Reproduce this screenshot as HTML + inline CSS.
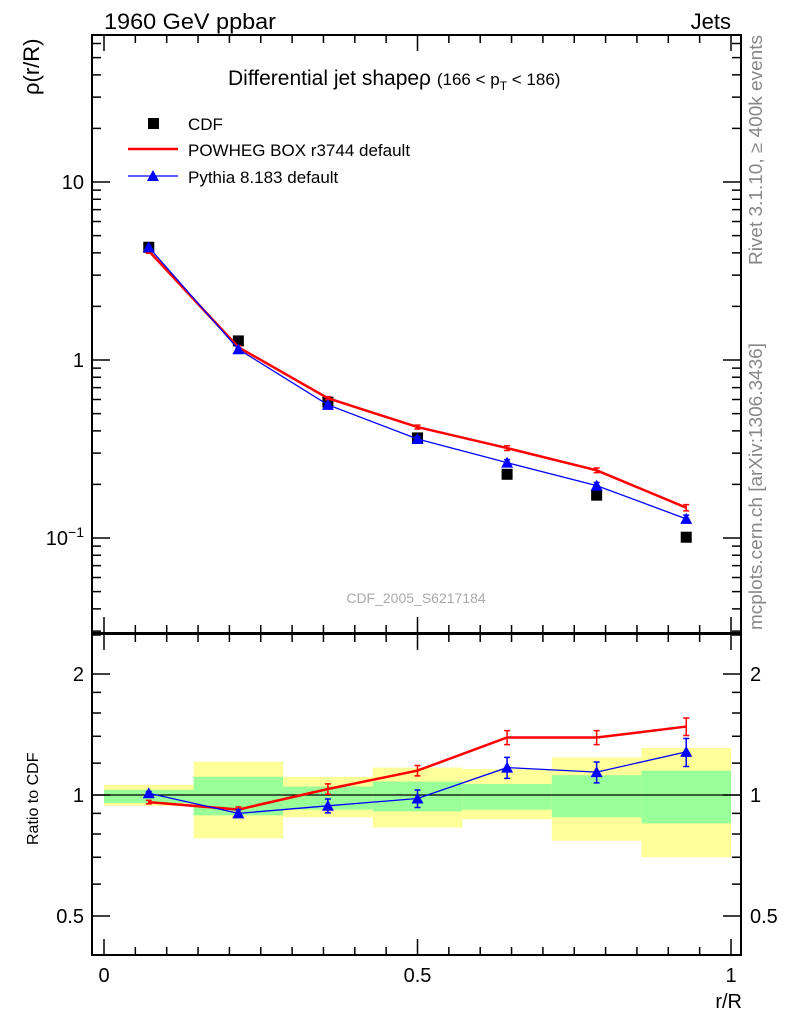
<!DOCTYPE html>
<html><head><meta charset="utf-8"><style>
body{margin:0;background:#fff}
svg text{font-family:"Liberation Sans",sans-serif}
</style></head><body>
<svg id="c" width="786" height="1024" xmlns="http://www.w3.org/2000/svg">
<rect width="786" height="1024" fill="#fff"/>
<g id="bands"></g>
<g id="marks"></g>
<g id="axes"></g>
<text x="104" y="29" font-size="22" textLength="172" lengthAdjust="spacingAndGlyphs">1960 GeV ppbar</text>
<text x="731" y="29" font-size="22" text-anchor="end">Jets</text>
<text x="228" y="85" font-size="21">Differential jet shapeρ <tspan font-size="17">(166 &lt; p</tspan><tspan font-size="12" dy="5">T</tspan><tspan font-size="17" dy="-5"> &lt; 186)</tspan></text>
<text x="416" y="603" font-size="14" fill="#aaa" text-anchor="middle">CDF_2005_S6217184</text>
<text transform="translate(762,265) rotate(-90)" font-size="18" textLength="230" lengthAdjust="spacingAndGlyphs" fill="#888">Rivet 3.1.10, ≥ 400k events</text>
<text transform="translate(762,630) rotate(-90)" font-size="18" textLength="287" lengthAdjust="spacingAndGlyphs" fill="#888">mcplots.cern.ch [arXiv:1306.3436]</text>
<text transform="translate(39,95) rotate(-90)" font-size="22">ρ(r/R)</text>
<text transform="translate(38,845) rotate(-90)" font-size="16">Ratio to CDF</text>
<text x="742" y="1008" font-size="20" text-anchor="end">r/R</text>
<g>
<rect x="148" y="118" width="11" height="11" fill="#000"/>
<text x="188" y="130" font-size="17">CDF</text>
<line x1="128" y1="149" x2="178" y2="149" stroke="#f00" stroke-width="2.5"/>
<text x="188" y="156" font-size="17">POWHEG BOX r3744 default</text>
<line x1="128" y1="176" x2="178" y2="176" stroke="#00f" stroke-width="1.3"/>
<polygon points="153,170 147,181 159,181" fill="#00f"/>
<text x="188" y="183" font-size="17">Pythia 8.183 default</text>
</g>
</svg>
<script>
const xCenters=[0.0714,0.2143,0.3571,0.5,0.6429,0.7857,0.9286];
const cdf=[4.3,1.28,0.58,0.365,0.228,0.174,0.101];
const powheg=[4.1,1.18,0.61,0.42,0.32,0.24,0.148];
const pythia=[4.3,1.15,0.56,0.36,0.265,0.197,0.128];
const powhegRatio=[0.96,0.92,1.035,1.15,1.39,1.39,1.48];
const pythiaRatio=[1.01,0.90,0.94,0.98,1.17,1.14,1.28];
const powhegRatioErr=[0.01,0.015,0.03,0.03,0.04,0.04,0.05];
const pythiaRatioErr=[0.01,0.02,0.04,0.05,0.06,0.06,0.08];
const yellowHi=[1.06,1.21,1.11,1.17,1.16,1.24,1.31];
const yellowLo=[0.94,0.78,0.88,0.83,0.87,0.77,0.70];
const greenHi=[1.03,1.11,1.05,1.08,1.065,1.12,1.15];
const greenLo=[0.955,0.89,0.92,0.91,0.92,0.88,0.85];
const mainTicks=["10","1"];
const NS="http://www.w3.org/2000/svg";
const X=v=>104+v*627;
const Y=v=>360-Math.log10(v)*178;
const R=v=>795-Math.log2(v)*121;
function el(p,t,a){const e=document.createElementNS(NS,t);for(const k in a)e.setAttribute(k,a[k]);p.appendChild(e);return e;}
const bands=document.getElementById('bands'),marks=document.getElementById('marks'),axes=document.getElementById('axes');
const w=1/7;
xCenters.forEach((c,i)=>{
 let r=el(bands,'rect',{x:X(c-w/2),y:R(yellowHi[i]),width:X(w)-104,height:R(yellowLo[i])-R(yellowHi[i]),fill:'#ffff99'});
 
 
 let g=el(bands,'rect',{x:X(c-w/2),y:R(greenHi[i]),width:X(w)-104,height:R(greenLo[i])-R(greenHi[i]),fill:'#99ff99'});
 
 
});
let one=el(marks,'line',{x1:92,x2:741,y1:R(1),y2:R(1),stroke:'#000','stroke-width':1.2});


function series(vals,fy,col,sw,name,tri,errs){
 const p=el(marks,'polyline',{points:xCenters.map((c,i)=>X(c)+','+fy(vals[i])).join(' '),fill:'none',stroke:col,'stroke-width':sw});
 
 
 xCenters.forEach((c,i)=>{
  if(errs){const y1=fy(vals[i]*(1+errs[i])),y2=fy(vals[i]*(1-errs[i]));
   const e=el(marks,'path',{d:`M${X(c)},${y1}V${y2}M${X(c)-3},${y1}h6M${X(c)-3},${y2}h6`,stroke:col,'stroke-width':1.5});
   
   }
  if(tri){const x=X(c),y=fy(vals[i]);
   const t=el(marks,'polygon',{points:`${x},${y-6} ${x-6},${y+5} ${x+6},${y+5}`,fill:col});
   
   }
 });
}
xCenters.forEach((c,i)=>{
 const r=el(marks,'rect',{x:X(c)-5.5,y:Y(cdf[i])-5.5,width:11,height:11,fill:'#000'});
 
 
});
series(powheg,Y,'#f00',2.5,'powheg',false,[0.03,0.02,0.02,0.025,0.03,0.03,0.04]);
series(pythia,Y,'#00f',1.3,'pythia',true,[0.01,0.01,0.02,0.03,0.04,0.04,0.05]);
series(powhegRatio,R,'#f00',2.5,'powheg-ratio',false,powhegRatioErr);
series(pythiaRatio,R,'#00f',1.3,'pythia-ratio',true,pythiaRatioErr);
[[35,633],[634,955]].forEach(([t,b])=>{const f=el(axes,'rect',{x:92,y:t,width:649,height:b-t,fill:'none',stroke:'#000','stroke-width':2});
 
 });
let d='';
for(let k=0;k<=20;k++){const v=k*0.05,x=X(v),L=(k%10==0)?16:8;
 d+=`M${x},35v${L}M${x},633v${-L}M${x},634v${L}M${x},955v${-L}`;}
for(let e=-2;e<=1;e++)for(let m=1;m<=9;m++){const v=m*Math.pow(10,e),y=Y(v);if(y<36||y>632)continue;const L=m==1?18:9;d+=`M92,${y}h${L}M741,${y}h${-L}`;}
[0.4,0.5,0.6,0.7,0.8,0.9,1,1.2,1.4,1.6,1.8,2,2.5].forEach(v=>{const y=R(v),L=(v==0.5||v==1||v==2)?18:9;d+=`M92,${y}h${L}M741,${y}h${-L}`;});
const tk=el(axes,'path',{d,stroke:'#000','stroke-width':1.5});


function lab(x,y,s,anchor,name){const t=el(axes,'text',{x,y,'font-size':20,'text-anchor':anchor});t.textContent=s;
 
 return t;}
lab(84,Y(10)+7,mainTicks[0],'end','y-tick-label');
lab(84,Y(1)+7,mainTicks[1],'end','y-tick-label');
const t3=lab(84,Y(0.1)+7,'10','end','y-tick-label');const ts=document.createElementNS(NS,'tspan');ts.setAttribute('font-size','14');ts.setAttribute('dy','-8');ts.textContent='−1';t3.appendChild(ts);
[['2',2],['1',1],['0.5',0.5]].forEach(([s,v])=>{lab(84,R(v)+7,s,'end','ratio-tick-label');lab(750,R(v)+7,s,'start','ratio-tick-label-right');});
[['0',0],['0.5',0.5],['1',1]].forEach(([s,v])=>lab(X(v),982,s,'middle','x-tick-label'));
</script>
</body></html>
